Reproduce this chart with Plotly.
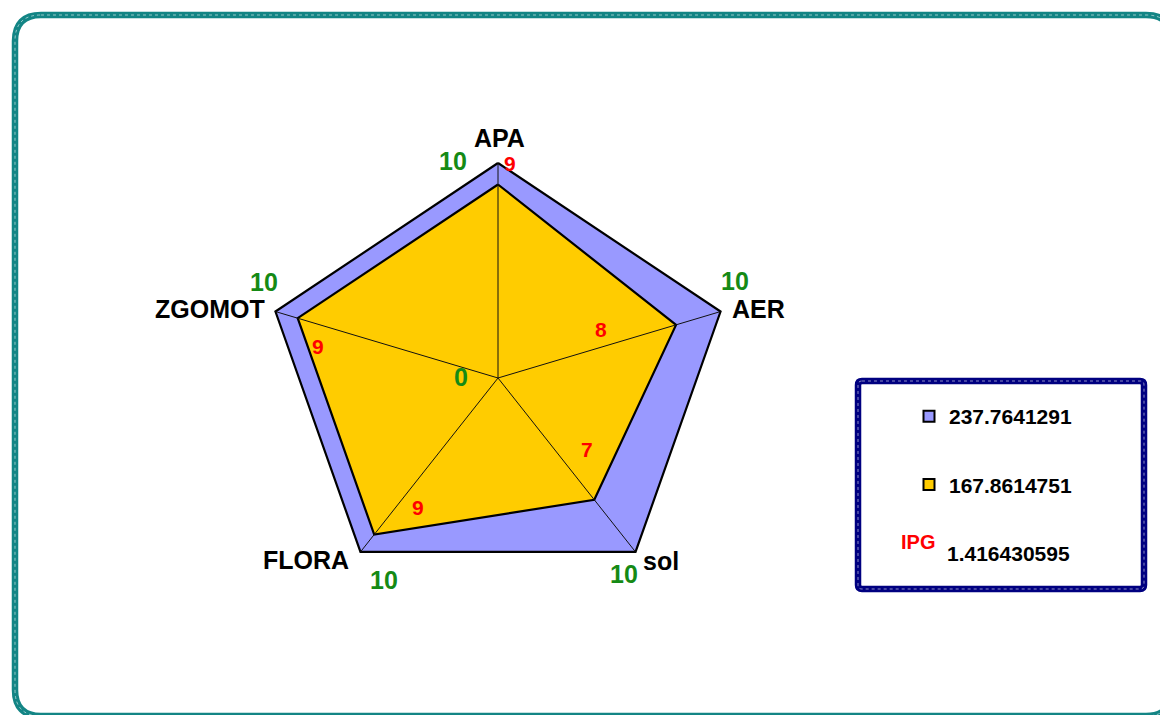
import math
import plotly.graph_objects as go

# ---------------- data ----------------
categories = ["APA", "AER", "sol", "FLORA", "ZGOMOT"]
outer_values = [10, 10, 10, 10, 10]
inner_values = [9, 8, 7, 9, 9]
series_names = ["237.7641291", "167.8614751"]
ipg_label = "IPG"
ipg_value = "1.416430595"
center_value = 0

# ---------------- styling ----------------
W, H = 1160, 715
FONT = "Arial, 'Liberation Sans', sans-serif"
BLUE = "#9999FF"
GOLD = "#FFCC00"
GREEN = "#158A15"
RED = "#FF0000"

# pixel scale of the radar (px per unit), and centre in pixels
PX_X, PX_Y = 23.4, 21.5
CX, CY = 498, 378


def angle(i):
    return math.radians(90 - 72 * i)


def to_xy(vals):
    xs = [v * math.cos(angle(i)) for i, v in enumerate(vals)]
    ys = [v * math.sin(angle(i)) for i, v in enumerate(vals)]
    return xs + xs[:1], ys + ys[:1]


fig = go.Figure()

ox, oy = to_xy(outer_values)
ix, iy = to_xy(inner_values)

fig.add_trace(go.Scatter(x=ox, y=oy, mode="lines", fill="toself", fillcolor=BLUE,
                         line=dict(color="black", width=2.2), showlegend=False, hoverinfo="skip"))
fig.add_trace(go.Scatter(x=ix, y=iy, mode="lines", fill="toself", fillcolor=GOLD,
                         line=dict(color="black", width=2.2), showlegend=False, hoverinfo="skip"))

# spokes (axis lines)
sx, sy = [], []
rmax = max(outer_values)
for i in range(len(categories)):
    sx += [0, rmax * math.cos(angle(i)), None]
    sy += [0, rmax * math.sin(angle(i)), None]
fig.add_trace(go.Scatter(x=sx, y=sy, mode="lines", line=dict(color="#111", width=1),
                         showlegend=False, hoverinfo="skip"))

# legend proxies
for name, col in zip(series_names, [BLUE, GOLD]):
    fig.add_trace(go.Scatter(x=[None], y=[None], mode="markers", name=f"<b>{name}</b>", legendgroup=name,
                             marker=dict(symbol="square", size=11, color=col,
                                         line=dict(color="black", width=2))))

annotations = []
# category labels: (xshift, yshift, xanchor)
cat_off = [(1, 25, "center"), (9, 3, "left"), (5, -9, "left"), (-9, -8, "right"), (-8, 3, "right")]
green_off = [(-45, 2), (14, 31), (-12, -22), (24, -28), (-11, 30)]
red_off = [(12, 21), (-75, -5), (-7, 50), (44, 27), (20, -28)]
for i, cat in enumerate(categories):
    a = angle(i)
    vx, vy = outer_values[i] * math.cos(a), outer_values[i] * math.sin(a)
    dx, dy, xa = cat_off[i]
    annotations.append(dict(x=vx, y=vy, xref="x", yref="y", text=f"<b>{cat}</b>", showarrow=False,
                            xshift=dx, yshift=dy, xanchor=xa, yanchor="middle",
                            font=dict(family=FONT, size=25, color="black")))
    gx, gy = green_off[i]
    annotations.append(dict(x=vx, y=vy, xref="x", yref="y", text=f"<b>{outer_values[i]}</b>",
                            showarrow=False, xshift=gx, yshift=gy, xanchor="center", yanchor="middle",
                            font=dict(family=FONT, size=25, color=GREEN)))
    ux, uy = inner_values[i] * math.cos(a), inner_values[i] * math.sin(a)
    rx, ry = red_off[i]
    annotations.append(dict(x=ux, y=uy, xref="x", yref="y", text=f"<b>{inner_values[i]}</b>",
                            showarrow=False, xshift=rx, yshift=ry, xanchor="center", yanchor="middle",
                            font=dict(family=FONT, size=21, color=RED)))

annotations.append(dict(x=0, y=0, xref="x", yref="y", text=f"<b>{center_value}</b>", showarrow=False,
                        xshift=-37, yshift=1, xanchor="center", yanchor="middle",
                        font=dict(family=FONT, size=25, color=GREEN)))

# IPG line in legend box
annotations.append(dict(x=918 / W, y=1 - 542 / H, xref="paper", yref="paper", text=f"<b>{ipg_label}</b>",
                        showarrow=False, xanchor="center", yanchor="middle",
                        font=dict(family=FONT, size=20, color=RED)))
annotations.append(dict(x=1008 / W, y=1 - 553 / H, xref="paper", yref="paper", text=f"<b>{ipg_value}</b>",
                        showarrow=False, xanchor="center", yanchor="middle",
                        font=dict(family=FONT, size=21, color="black")))


def rounded_path(x0, y0, x1, y1, r):
    # pixel coords (top-left origin) -> paper
    def p(x, y):
        return f"{x / W:.5f},{1 - y / H:.5f}"
    return (f"M {p(x0 + r, y0)} L {p(x1 - r, y0)} Q {p(x1, y0)} {p(x1, y0 + r)} "
            f"L {p(x1, y1 - r)} Q {p(x1, y1)} {p(x1 - r, y1)} "
            f"L {p(x0 + r, y1)} Q {p(x0, y1)} {p(x0, y1 - r)} "
            f"L {p(x0, y0 + r)} Q {p(x0, y0)} {p(x0 + r, y0)} Z")


outer = rounded_path(15, 15, 1172, 716, 26)
box = rounded_path(858, 381, 1144, 589, 4)
shapes = [
    dict(type="path", xref="paper", yref="paper", path=outer, line=dict(color="#138585", width=6.5), layer="below"),
    dict(type="path", xref="paper", yref="paper", path=outer, line=dict(color="rgba(255,255,255,0.55)", width=1, dash="dot"), layer="below"),
    dict(type="path", xref="paper", yref="paper", path=box, line=dict(color="#000080", width=6.5), layer="below"),
    dict(type="path", xref="paper", yref="paper", path=box, line=dict(color="rgba(255,255,255,0.55)", width=1, dash="dot"), layer="below"),
]

fig.update_layout(
    width=W, height=H,
    margin=dict(l=0, r=0, t=0, b=0),
    paper_bgcolor="white", plot_bgcolor="rgba(0,0,0,0)",
    xaxis=dict(range=[-CX / PX_X, (W - CX) / PX_X], visible=False, fixedrange=True),
    yaxis=dict(range=[-(H - CY) / PX_Y, CY / PX_Y], visible=False, fixedrange=True),
    showlegend=True,
    legend=dict(x=909 / W, y=1 - 396 / H, xanchor="left", yanchor="top",
                bgcolor="rgba(0,0,0,0)", borderwidth=0, tracegroupgap=38,
                font=dict(family=FONT, size=21, color="black"), itemwidth=30),
    annotations=annotations,
    shapes=shapes,
)

fig.write_html("out.html")
